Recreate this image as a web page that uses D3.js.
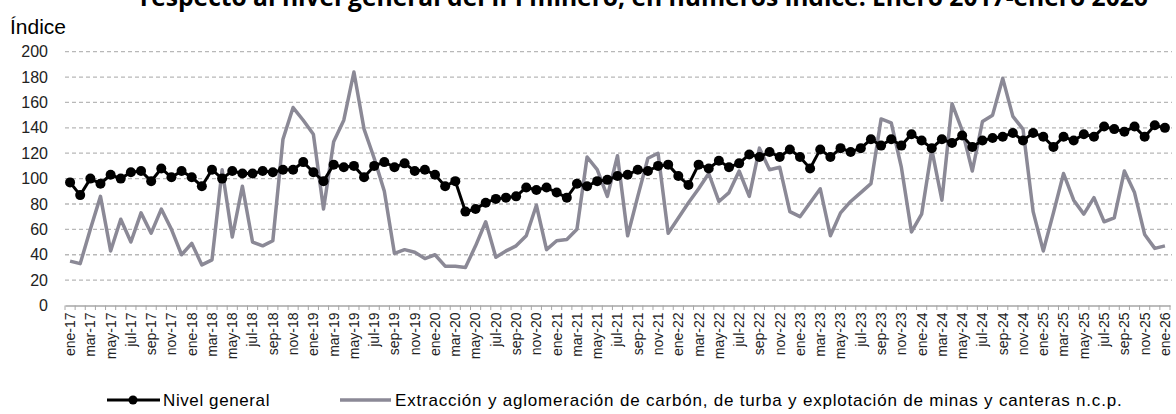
<!DOCTYPE html>
<html>
<head>
<meta charset="utf-8">
<script src="https://cdn.jsdelivr.net/npm/d3@7"></script>
<style>
  body { margin: 0; background: #fff; }
  text { font-family: "Liberation Sans", Arial, sans-serif; }
</style>
</head>
<body>
<div id="chart"></div>
<script>
var svgWidth = 1176;
var svgHeight = 414;

// month labels ene-17 ... ene-26
var monthNames = ["ene", "feb", "mar", "abr", "may", "jun", "jul", "ago", "sep", "oct", "nov", "dic"];
var years = [17, 18, 19, 20, 21, 22, 23, 24, 25, 26];
var categories = [];
years.forEach(function(y) {
  monthNames.forEach(function(m, i) {
    if (y < 26 || i === 0) categories.push(m + "-" + y);
  });
});

var nivelGeneral = [
  97, 87, 100, 96, 103, 100, 105, 106, 98, 108, 101, 106,
  101, 94, 107, 100, 106, 104, 104, 106, 105, 107, 107, 113,
  105, 98, 111, 109, 110, 101, 110, 113, 109, 112, 106, 107,
  103, 94, 98, 74, 76, 81, 84, 85, 86, 93, 91, 93,
  89, 85, 96, 94, 98, 99, 102, 103, 107, 106, 110, 111,
  102, 95, 111, 108, 114, 109, 112, 119, 117, 121, 117, 123,
  117, 108, 123, 117, 124, 121, 124, 131, 126, 131, 126, 135,
  130, 124, 131, 128, 134, 125, 130, 132, 133, 136, 130, 136,
  133, 125, 133, 130, 135, 133, 141, 139, 137, 141, 133, 142,
  140
];

var extraccion = [
  35, 33, 60, 86, 43, 68, 50, 73, 57, 76, 60, 40,
  49, 32, 36, 107, 54, 94, 50, 47, 51, 131, 156, 146,
  135, 76, 129, 146, 184, 139, 116, 90, 41, 44, 42, 37,
  40, 31, 31, 30, 47, 66, 38, 43, 47, 55, 79, 44,
  51, 52, 60, 117, 107, 86, 118, 55, 86, 116, 120, 57,
  69, 81, 92, 104, 82, 89, 106, 86, 124, 107, 109, 74,
  70, 81, 92, 55, 73, 82, 89, 96, 147, 144, 109, 58,
  72, 123, 83, 159, 138, 106, 145, 150, 179, 149, 139, 74,
  43, 73, 104, 83, 72, 85, 66, 69, 106, 89, 56, 45,
  47
];

var yTicks = [0, 20, 40, 60, 80, 100, 120, 140, 160, 180, 200];

var seriesNames = [
  "Nivel general",
  "Extracción y aglomeración de carbón, de turba y explotación de minas y canteras n.c.p."
];

var grayColor = "#8b8996";

var svg = d3.select("#chart")
  .append("svg")
  .attr("width", svgWidth)
  .attr("height", svgHeight);

var xScale = d3.scaleBand()
  .domain(categories)
  .range([65, 1170]);

var yScale = d3.scaleLinear()
  .domain([0, 200])
  .range([305.5, 51.7]);

// title (its first line lies above the picture)
var title = svg.append("text")
  .attr("x", 644)
  .attr("y", 6)
  .attr("text-anchor", "middle")
  .style("font-family", "'Open Sans', sans-serif")
  .style("font-weight", "bold")
  .style("font-size", "20px")
  .text("respecto al nivel general del IPI minero, en números índice. Enero 2017-enero 2026");
// fit it to the width it has in the picture
var tw = title.node().getComputedTextLength();
title.style("font-size", (20 * 1008 / tw) + "px");

svg.append("text")
  .attr("x", 10)
  .attr("y", 34)
  .style("font-size", "21px")
  .text("Índice");

// gridlines
svg.append("g")
  .selectAll("line")
  .data(yTicks.filter(d => d > 0))
  .enter()
  .append("line")
  .attr("x1", 65)
  .attr("x2", 1172)
  .attr("y1", d => yScale(d))
  .attr("y2", d => yScale(d))
  .attr("stroke", "#b8b8b8")
  .attr("stroke-width", 1.3)
  .attr("stroke-dasharray", "4,3");

// y axis labels
var leftAxis = d3.axisLeft(yScale).tickValues(yTicks).tickSize(0).tickPadding(0);
var yAxisG = svg.append("g")
  .attr("transform", "translate(48,0)")
  .call(leftAxis);
yAxisG.select(".domain").remove();
yAxisG.selectAll("text")
  .style("font-size", "16px")
  .style("font-family", "'Liberation Sans', Arial, sans-serif")
  .attr("fill", "#222");

// x axis
var bottomAxis = d3.axisBottom(xScale)
  .tickSize(0)
  .tickPadding(6)
  .tickFormat((d, i) => i % 2 === 0 ? d : "");
var xAxisG = svg.append("g")
  .attr("transform", "translate(0,305.5)")
  .call(bottomAxis);
xAxisG.select(".domain")
  .attr("stroke", "#a6a6a6")
  .attr("stroke-width", 1.5);
xAxisG.selectAll("text")
  .attr("transform", "rotate(-90)")
  .attr("text-anchor", "end")
  .attr("x", -7)
  .attr("y", 0)
  .attr("dy", "0.35em")
  .style("font-size", "14px")
  .style("font-family", "'Liberation Sans', Arial, sans-serif")
  .attr("fill", "#222");

// tick marks between months
svg.append("g")
  .selectAll("line")
  .data(categories.concat(["end"]))
  .enter()
  .append("line")
  .attr("x1", (d, i) => xScale.range()[0] + i * xScale.step())
  .attr("x2", (d, i) => xScale.range()[0] + i * xScale.step())
  .attr("y1", 305.5)
  .attr("y2", 310)
  .attr("stroke", "#a6a6a6")
  .attr("stroke-width", 1);

var cx = (d, i) => xScale(categories[i]) + xScale.bandwidth() / 2;

// gray series
svg.append("path")
  .datum(extraccion)
  .attr("fill", "none")
  .attr("stroke", grayColor)
  .attr("stroke-width", 3.5)
  .attr("stroke-linejoin", "round")
  .attr("d", d3.line().x(cx).y(d => yScale(d)));

// nivel general
svg.append("path")
  .datum(nivelGeneral)
  .attr("fill", "none")
  .attr("stroke", "#000")
  .attr("stroke-width", 3)
  .attr("d", d3.line().x(cx).y(d => yScale(d)));

svg.append("g")
  .selectAll("circle")
  .data(nivelGeneral)
  .enter()
  .append("circle")
  .attr("cx", cx)
  .attr("cy", d => yScale(d))
  .attr("r", 5)
  .attr("fill", "#000");

// legend
var legend = svg.append("g");
legend.append("line")
  .attr("x1", 107).attr("x2", 160)
  .attr("y1", 400).attr("y2", 400)
  .attr("stroke", "#000").attr("stroke-width", 3);
legend.append("circle")
  .attr("cx", 133).attr("cy", 400).attr("r", 4.5).attr("fill", "#000");
legend.append("text")
  .attr("x", 163).attr("y", 406)
  .style("font-size", "17px")
  .style("letter-spacing", "0.6px")
  .text(seriesNames[0]);

legend.append("line")
  .attr("x1", 340).attr("x2", 391)
  .attr("y1", 400).attr("y2", 400)
  .attr("stroke", grayColor).attr("stroke-width", 3.5);
legend.append("text")
  .attr("x", 395).attr("y", 406)
  .style("font-size", "17px")
  .style("letter-spacing", "0.8px")
  .text(seriesNames[1]);
</script>
</body>
</html>
